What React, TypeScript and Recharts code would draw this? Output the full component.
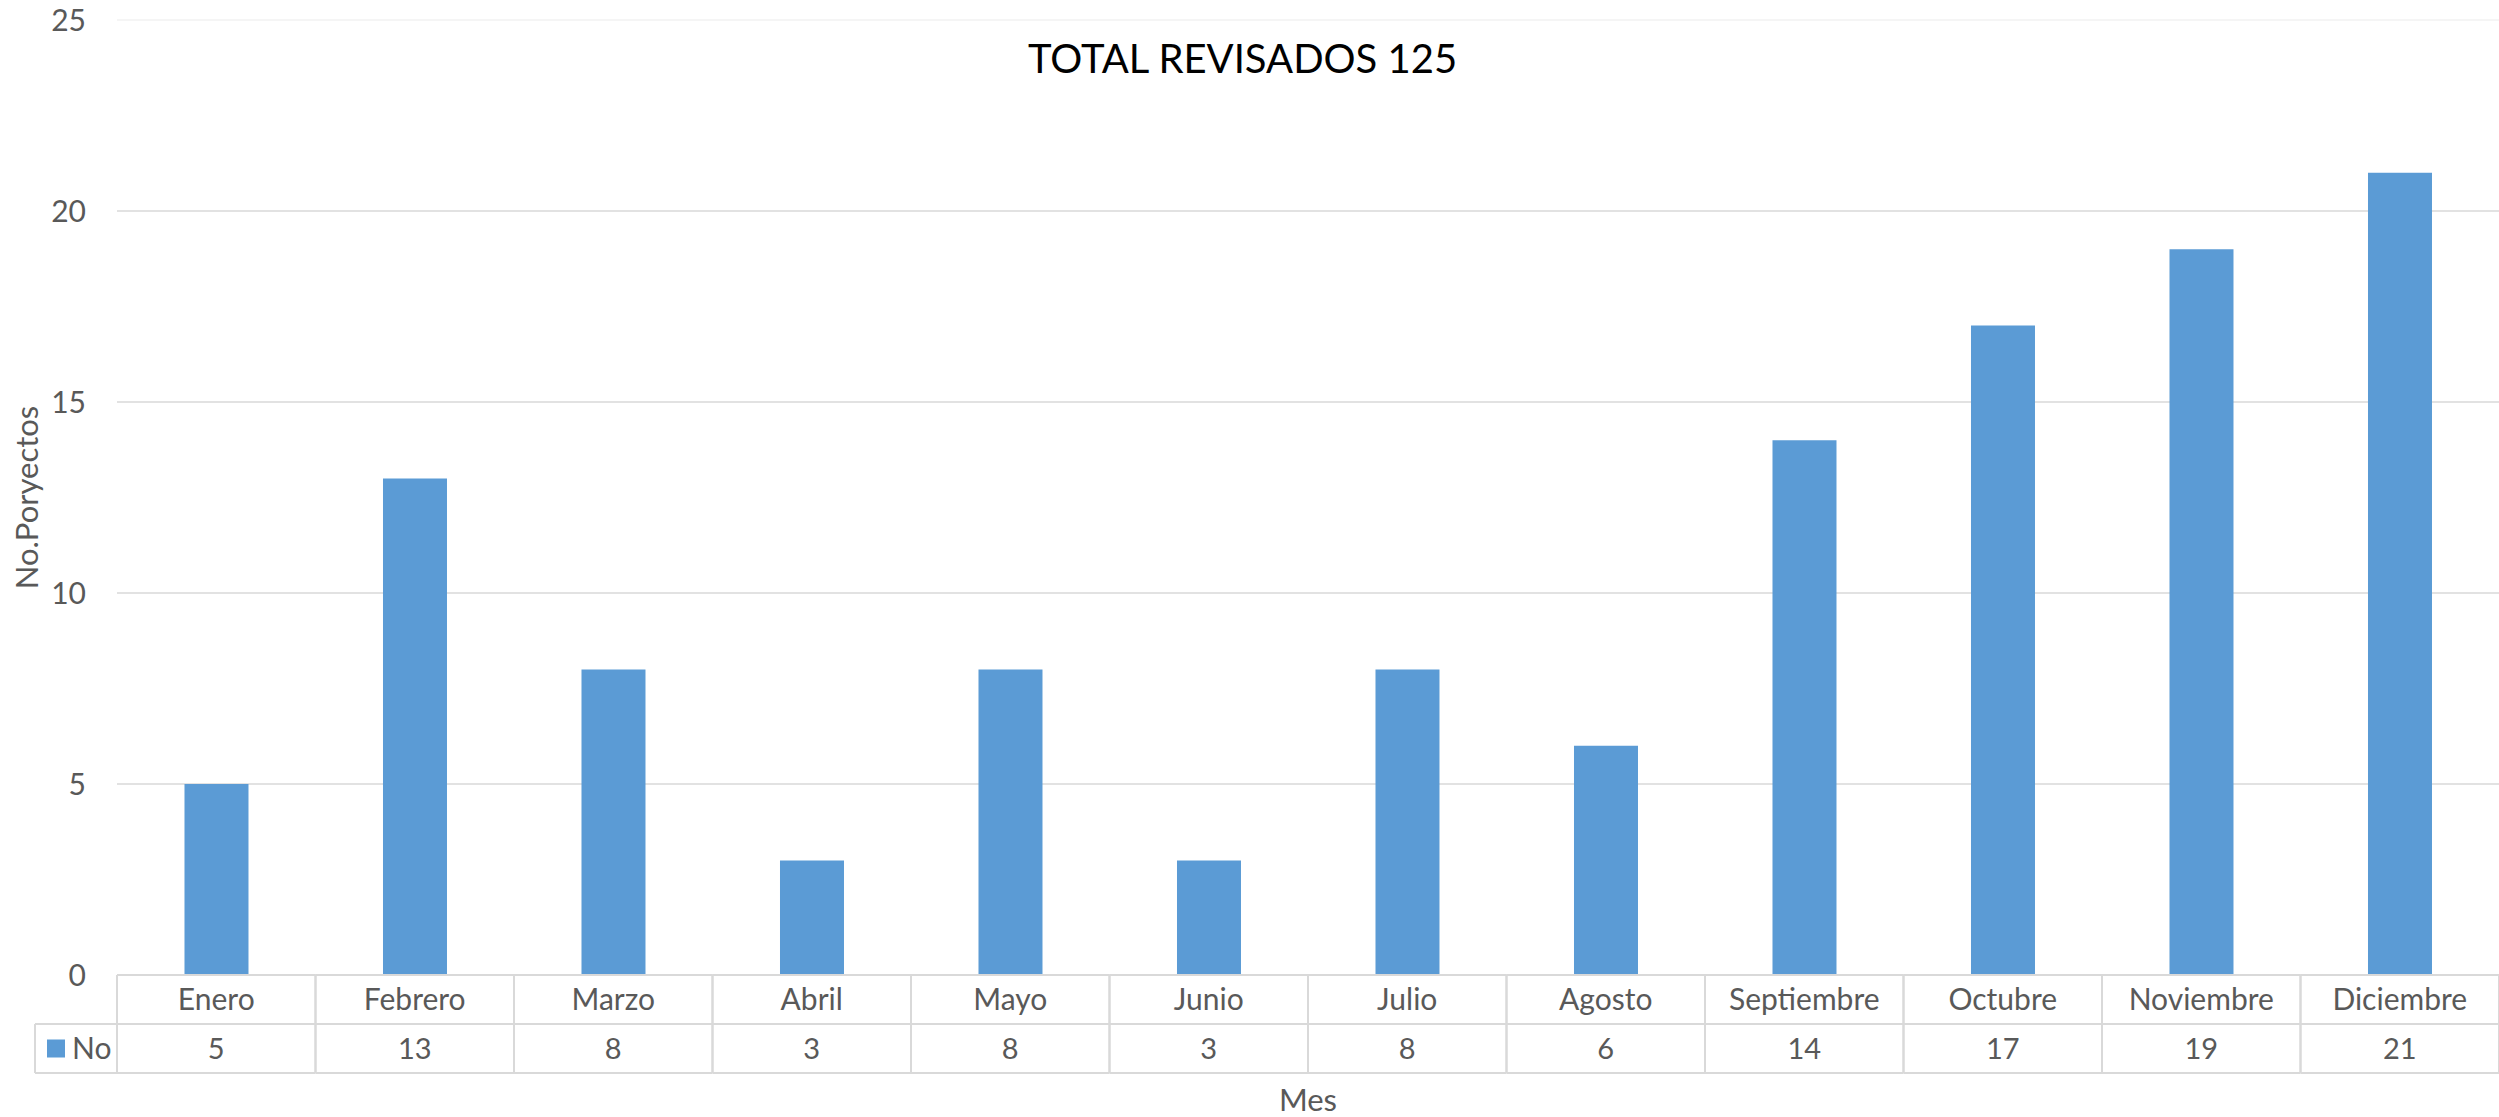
import React from 'react';
import { BarChart, Bar, XAxis, YAxis, CartesianGrid } from 'recharts';

const categories = ['Enero', 'Febrero', 'Marzo', 'Abril', 'Mayo', 'Junio', 'Julio', 'Agosto', 'Septiembre', 'Octubre', 'Noviembre', 'Diciembre'];
const values = [5, 13, 8, 3, 8, 3, 8, 6, 14, 17, 19, 21];
const yTicks = [0, 5, 10, 15, 20, 25];
const seriesName = 'No';
const chartTitle = 'TOTAL REVISADOS 125';
const yTitle = 'No.Poryectos';
const xTitle = 'Mes';

const data = categories.map((c, i) => ({ mes: c, no: values[i] }));

const W = 2499;
const H = 1117;
const Y_AXIS_W = 117;
const X_AXIS_H = 142;
const TOP = 20;
const ROW_H = 49;
const FONT = 'Lato, "Open Sans", sans-serif';
const TXT = '#595959';
const LINE = '#d9d9d9';
const BAR = '#5b9bd5';
const cellW = (W - Y_AXIS_W) / categories.length;

function CategoryTick(props: any) {
  const { x, y, payload, index } = props;
  const left = x - cellW / 2;
  const right = x + cellW / 2;
  const r1 = y + ROW_H;
  const r2 = y + ROW_H * 2;
  const v = data.find((d) => d.mes === payload.value)?.no;
  return (
    <g>
      <line x1={left} y1={y} x2={right} y2={y} stroke={LINE} strokeWidth={2} />
      <line x1={left} y1={r1} x2={right} y2={r1} stroke={LINE} strokeWidth={2} />
      <line x1={left} y1={r2} x2={right} y2={r2} stroke={LINE} strokeWidth={2} />
      <line x1={left} y1={y} x2={left} y2={r2} stroke={LINE} strokeWidth={2} />
      <line x1={right} y1={y} x2={right} y2={r2} stroke={LINE} strokeWidth={2} />
      <text x={x} y={y + ROW_H / 2} dy="0.36em" textAnchor="middle" fill={TXT} fontSize={30} fontFamily={FONT}>
        {payload.value}
      </text>
      <text x={x} y={r1 + ROW_H / 2} dy="0.36em" textAnchor="middle" fill={TXT} fontSize={29} fontFamily={FONT}>
        {v}
      </text>
      {index === 0 && (
        <g>
          <line x1={35} y1={r1} x2={left} y2={r1} stroke={LINE} strokeWidth={2} />
          <line x1={35} y1={r2} x2={left} y2={r2} stroke={LINE} strokeWidth={2} />
          <line x1={35} y1={r1} x2={35} y2={r2} stroke={LINE} strokeWidth={2} />
          <rect x={47} y={r1 + ROW_H / 2 - 9} width={18} height={18} fill={BAR} />
          <text x={72} y={r1 + ROW_H / 2} dy="0.36em" textAnchor="start" fill={TXT} fontSize={30} fontFamily={FONT}>
            {seriesName}
          </text>
        </g>
      )}
    </g>
  );
}

function GridLine(p: any) {
  return (
    <line
      key={`g-${p.index}-${p.y1}`}
      x1={p.x1}
      y1={p.y1}
      x2={p.x2}
      y2={p.y2}
      stroke={p.y1 < TOP + 5 ? '#f2f2f2' : LINE}
      strokeWidth={1.5}
    />
  );
}

export default function App() {
  return (
    <div style={{ position: 'absolute', left: 0, top: 0, width: W, height: H, background: '#fff' }}>
      <div
        style={{
          position: 'absolute',
          left: 0,
          width: W - 14,
          top: 32,
          textAlign: 'center',
          fontFamily: FONT,
          fontSize: 40,
          color: '#000',
          lineHeight: '52px',
          zIndex: 2,
        }}
      >
        {chartTitle}
      </div>
      <BarChart
        width={W}
        height={H}
        data={data}
        margin={{ top: TOP, right: 0, bottom: 0, left: 0 }}
        barCategoryGap="34%"
      >
        <CartesianGrid vertical={false} horizontal={GridLine as any} />
        <XAxis
          dataKey="mes"
          height={X_AXIS_H}
          axisLine={false}
          tickLine={false}
          tickSize={0}
          tickMargin={0}
          interval={0}
          tick={<CategoryTick />}
          label={{
            content: (lp: any) => {
              const vb = lp.viewBox;
              return (
                <text x={vb.x + vb.width / 2} y={1111} textAnchor="middle" fill={TXT} fontSize={31} fontFamily={FONT}>
                  {xTitle}
                </text>
              );
            },
          }}
        />
        <YAxis
          width={Y_AXIS_W}
          domain={[0, 25]}
          ticks={yTicks}
          axisLine={false}
          tickLine={false}
          tickSize={0}
          tickMargin={31}
          tick={{ fill: TXT, fontSize: 30, fontFamily: FONT }}
          label={{
            content: (lp: any) => {
              const vb = lp.viewBox;
              const cy = vb.y + vb.height / 2;
              return (
                <text
                  x={27}
                  y={cy}
                  transform={`rotate(-90 27 ${cy})`}
                  dy="0.36em"
                  textAnchor="middle"
                  fill={TXT}
                  fontSize={31}
                  fontFamily={FONT}
                >
                  {yTitle}
                </text>
              );
            },
          }}
        />
        <Bar dataKey="no" name={seriesName} fill={BAR} isAnimationActive={false} />
      </BarChart>
    </div>
  );
}
